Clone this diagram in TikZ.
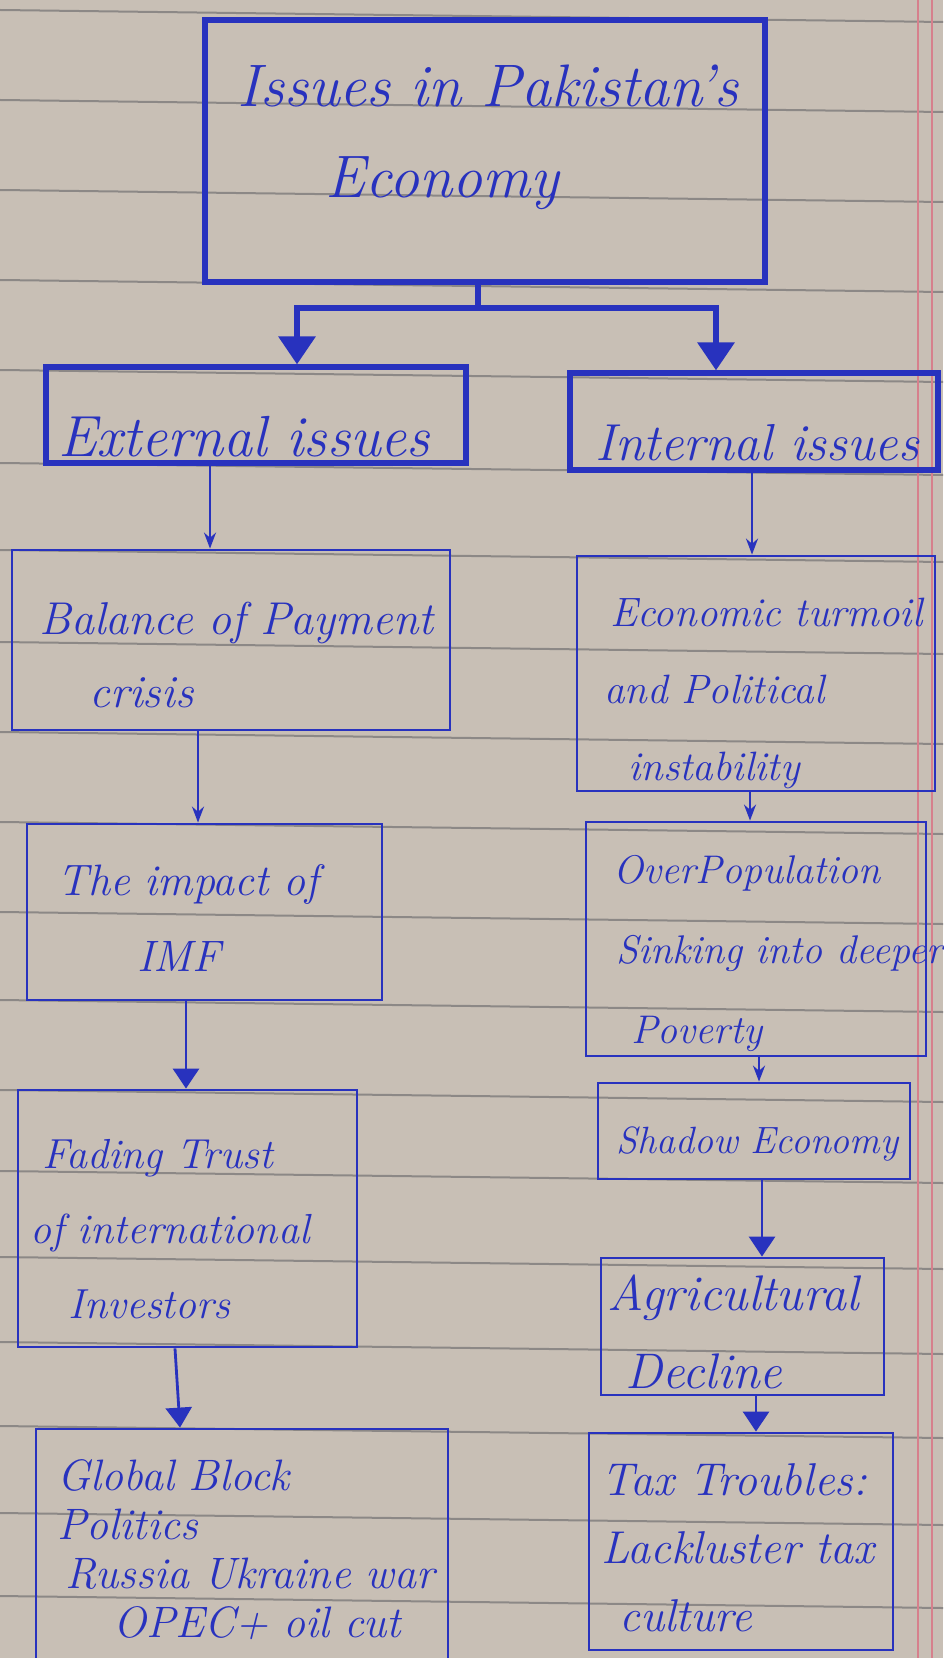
\documentclass[tikz,border=0pt]{standalone}
\usepackage{tikz}
\usetikzlibrary{arrows.meta}
\definecolor{inkblue}{RGB}{40,50,190}
\definecolor{paper}{RGB}{200,191,181}
\definecolor{rulegray}{RGB}{140,136,134}
\definecolor{marginred}{RGB}{214,128,140}

\tikzset{
  box/.style={draw=inkblue, line width=1.4pt, inner sep=0pt},
  headbox/.style={box, line width=2.6pt},
  txt/.style={anchor=base west, inner sep=0pt, text width=260pt, align=left, text=inkblue},
  link/.style={draw=inkblue, line width=1.2pt, -{Stealth[length=8pt, width=6pt]}},
  boldlink/.style={draw=inkblue, line width=1.4pt, -{Triangle[length=10pt, width=13pt]}},
  fork/.style={draw=inkblue, line width=3.2pt},
}

\begin{document}
\begin{tikzpicture}[x=0.5pt, y=-0.5pt]
% paper sheet
\useasboundingbox (0,0) rectangle (943,1658);
\fill[paper] (0,0) rectangle (943,1658);
\foreach \y in {10,100,190,280,370,463,550,642,732,822,912,1000,1090,1171,1257,1342,1426,1513,1596}
  \draw[rulegray, line width=1pt] (0,\y) -- (943,\y+12);
\draw[marginred, line width=0.8pt] (918,0) -- (918,1658);
\draw[marginred, line width=0.8pt] (932,0) -- (932,1658);

% boxes
\node[headbox, minimum width=280pt, minimum height=131pt] (top) at (485,151) {};
\node[headbox, minimum width=210pt, minimum height=48pt] (ext) at (256,415) {};
\node[headbox, minimum width=184pt, minimum height=48.5pt] (int) at (754,421.5) {};
\node[box, minimum width=219pt, minimum height=90pt] (bal) at (231,640) {};
\node[box, minimum width=177.5pt, minimum height=88pt] (imf) at (204.5,912) {};
\node[box, minimum width=169.5pt, minimum height=128.5pt] (trust) at (187.5,1218.5) {};
\node[box, minimum width=206pt, minimum height=145.5pt] (bloc) at (242,1574.5) {};
\node[box, minimum width=179pt, minimum height=117.5pt] (turm) at (756,673.5) {};
\node[box, minimum width=170pt, minimum height=117pt] (popn) at (756,939) {};
\node[box, minimum width=156pt, minimum height=48pt] (shad) at (754,1131) {};
\node[box, minimum width=141.5pt, minimum height=68.5pt] (agri) at (742.5,1326.5) {};
\node[box, minimum width=152pt, minimum height=108.5pt] (taxes) at (741,1541.5) {};

% texts
\node[txt, font=\itshape\fontsize{30}{45.5}\selectfont] (toptxt) at (237,107) {Issues in Pakistan's\\\hspace*{44pt}Economy};
\node[txt, font=\itshape\fontsize{29}{30}\selectfont] (exttxt) at (58,456) {External issues};
\node[txt, font=\itshape\fontsize{26}{30}\selectfont] (inttxt) at (595,460) {Internal issues};
\node[txt, font=\itshape\fontsize{23}{36.5}\selectfont] (baltxt) at (39,634) {Balance of Payment\\\hspace*{25pt}crisis};
\node[txt, font=\itshape\fontsize{22}{38}\selectfont] (imftxt) at (57,895) {The impact of\\\hspace*{40pt}IMF};
\node[txt, font=\itshape\fontsize{21}{37.5}\selectfont] (trusttxt) at (30,1168) {\hspace*{6pt}Fading Trust\\of international\\\hspace*{19pt}Investors};
\node[txt, font=\itshape\fontsize{22}{24.5}\selectfont] (bloctxt) at (57,1490) {Global Block\\Politics\\\hspace*{4pt}Russia Ukraine war\\\hspace*{28pt}OPEC+ oil cut};
\node[txt, font=\itshape\fontsize{20.5}{38.5}\selectfont] (turmtxt) at (604,626) {\hspace*{3pt}Economic turmoil\\and Political\\\hspace*{12pt}instability};
\node[txt, font=\itshape\fontsize{20}{40}\selectfont] (popntxt) at (613,883) {OverPopulation\\\hspace*{1.5pt}Sinking into deeper\\\hspace*{9pt}Poverty};
\node[txt, font=\itshape\fontsize{19}{30}\selectfont] (shadtxt) at (616,1153) {Shadow Economy};
\node[txt, font=\itshape\fontsize{25}{39}\selectfont] (agritxt) at (607,1310) {Agricultural\\\hspace*{9pt}Decline};
\node[txt, font=\itshape\fontsize{23}{34}\selectfont] (taxestxt) at (601,1495) {Tax Troubles:\\Lackluster tax\\\hspace*{9pt}culture};

% fork from the title
\coordinate (split) at (478,308);
\draw[fork] (top.south -| split) -- (split);
\draw[fork, -{Triangle[length=14pt, width=18pt]}] (split) -| (ext.north -| 297,0);
\draw[fork, -{Triangle[length=14pt, width=18pt]}] (split) -| (int.north -| 716,0);

% left column
\draw[link] (ext.south -| 210,0) -- (bal.north -| 210,0);
\draw[link] (bal.south -| 198,0) -- (imf.north -| 198,0);
\draw[boldlink] (imf.south -| 186,0) -- (trust.north -| 186,0);
\draw[boldlink] (trust.south -| 175,0) -- (bloc.north -| 180,0);

% right column
\draw[link] (int.south -| 752,0) -- (turm.north -| 752,0);
\draw[link] (turm.south -| 750,0) -- (popn.north -| 750,0);
\draw[link] (popn.south -| 759,0) -- (shad.north -| 759,0);
\draw[boldlink] (shad.south -| 762,0) -- (agri.north -| 762,0);
\draw[boldlink] (agri.south -| 756,0) -- (taxes.north -| 756,0);
\end{tikzpicture}
\end{document}
